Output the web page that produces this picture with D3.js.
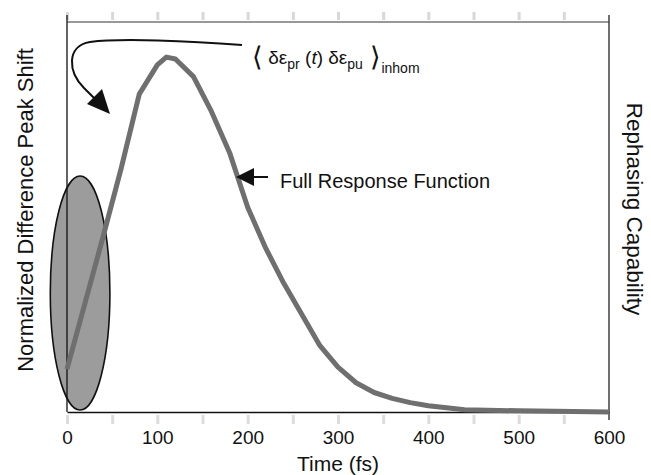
<!DOCTYPE html>
<html lang="en">
<head>
<meta charset="utf-8">
<title>Peak shift</title>
<script src="https://d3js.org/d3.v7.min.js"></script>
<style>
  body { margin: 0; background: #fff; }
  text { font-family: "Liberation Sans", Arial, sans-serif; fill: #111; }
</style>
</head>
<body>
<div id="chart"></div>
<script type="text/javascript">
	// data
	var times = [0, 20, 40, 60, 80, 100, 110, 120, 140, 160, 180, 200, 220, 240, 260, 280, 300, 320, 340, 360, 380, 400, 440, 500, 600];
	var response = [0.11, 0.28, 0.45, 0.625, 0.815, 0.89, 0.91, 0.905, 0.86, 0.77, 0.665, 0.525, 0.42, 0.33, 0.25, 0.17, 0.115, 0.075, 0.05, 0.035, 0.024, 0.016, 0.006, 0.003, 0.0];
	var xTicks = [0, 100, 200, 300, 400, 500, 600];
	var faintTicks = [0, 50, 100, 150, 200, 250, 300, 350, 400, 450, 500, 550];

	var margin = {top: 22, right: 42, bottom: 63, left: 67},
		width = 651 - margin.left - margin.right,
		height = 475 - margin.top - margin.bottom;

	var svg = d3.select("#chart")
		.append("svg")
		.attr("width", 651)
		.attr("height", 475);
	var g = svg.append("g")
		.attr("transform", "translate(" + margin.left + "," + margin.top + ")");

	var x = d3.scaleLinear().domain([0, 600]).range([0, width]);
	var y = d3.scaleLinear().domain([0, 1]).range([height, 0]);

	// faint scan-like ticks above and below the frame
	g.append("g")
		.attr("transform", "translate(0," + (-2) + ")")
		.call(d3.axisTop(x).tickValues(faintTicks).tickSize(8).tickFormat(""))
		.call(function(s){ s.select(".domain").remove(); s.selectAll("line").attr("stroke", "#d8d8d8").attr("stroke-width", 3); });
	g.append("g")
		.attr("transform", "translate(0," + (height + 3) + ")")
		.call(d3.axisBottom(x).tickValues(faintTicks).tickSize(9).tickFormat(""))
		.call(function(s){ s.select(".domain").remove(); s.selectAll("line").attr("stroke", "#dcdcdc").attr("stroke-width", 3); });

	// ellipse (initial region)
	g.append("ellipse")
		.attr("cx", x(14.5))
		.attr("cy", y(0.305))
		.attr("rx", x(33) - x(0))
		.attr("ry", y(0) - y(0.30))
		.attr("fill", "#9c9c9c")
		.attr("stroke", "#111")
		.attr("stroke-width", 1.6);

	// frame
	g.append("line").attr("x1", 0).attr("x2", 0).attr("y1", -7).attr("y2", height)
		.attr("stroke", "#111").attr("stroke-width", 1.3);
	g.append("line").attr("x1", width).attr("x2", width).attr("y1", -7).attr("y2", height + 8)
		.attr("stroke", "#222").attr("stroke-width", 1.3);
	g.append("line").attr("x1", 0).attr("x2", width).attr("y1", 0).attr("y2", 0)
		.attr("stroke", "#333").attr("stroke-width", 1);

	// bottom axis
	var xAxis = d3.axisBottom(x).tickValues(xTicks).tickSize(0).tickPadding(19);
	g.append("g")
		.attr("transform", "translate(0," + height + ")")
		.call(xAxis)
		.call(function(s){
			s.select(".domain").attr("stroke", "#111").attr("stroke-width", 1.6);
			s.selectAll("text").style("font-size", "19px").attr("fill", "#111");
		});

	// response curve
	var pts = times.map(function(t, i){ return {t: t, v: response[i]}; });
	g.append("path")
		.datum(pts)
		.attr("fill", "none")
		.attr("stroke", "#6f6f6f")
		.attr("stroke-width", 5)
		.attr("stroke-linejoin", "round")
		.attr("d", d3.line()
			.x(function(d){ return x(d.t); })
			.y(function(d){ return y(d.v); }));

	// curved arrow from the correlation label
	svg.append("path")
		.attr("d", "M242,45 C190,41 120,38 90,42 C66,46 68,72 84,88 L96,100")
		.attr("fill", "none")
		.attr("stroke", "#111")
		.attr("stroke-width", 2);
	svg.append("polygon")
		.attr("points", "110,114 87,104 102,89")
		.attr("fill", "#111");

	// correlation label
	var lab = svg.append("text")
		.attr("x", 252)
		.attr("y", 64)
		.style("font-size", "19px");
	lab.append("tspan").text("\u27E8").style("font-size", "27px").attr("dy", 2);
	lab.append("tspan").text(" \u03B4\u03B5").attr("dy", -2);
	lab.append("tspan").text("pr").style("font-size", "14px").attr("dy", 5);
	lab.append("tspan").text(" (").attr("dy", -5);
	lab.append("tspan").text("t").style("font-style", "italic");
	lab.append("tspan").text(") \u03B4\u03B5");
	lab.append("tspan").text("pu").style("font-size", "14px").attr("dy", 5);
	lab.append("tspan").text(" \u27E9").style("font-size", "27px").attr("dy", -3);
	lab.append("tspan").text("inhom").style("font-size", "14px").attr("dy", 7);

	// full response arrow + label
	svg.append("line").attr("x1", 250).attr("x2", 268).attr("y1", 177).attr("y2", 177)
		.attr("stroke", "#111").attr("stroke-width", 2);
	svg.append("polygon")
		.attr("points", "236,177 254,168 254,186")
		.attr("fill", "#111");
	svg.append("text")
		.attr("x", 280)
		.attr("y", 188)
		.style("font-size", "20px")
		.text("Full Response Function");

	// axis titles
	svg.append("text")
		.attr("x", 338)
		.attr("y", 471)
		.attr("text-anchor", "middle")
		.style("font-size", "21px")
		.text("Time (fs)");
	svg.append("text")
		.attr("transform", "translate(33,210) rotate(-90)")
		.attr("text-anchor", "middle")
		.style("font-size", "22px")
		.text("Normalized Difference Peak Shift");
	svg.append("text")
		.attr("transform", "translate(627,209) rotate(90)")
		.attr("text-anchor", "middle")
		.style("font-size", "22.5px")
		.text("Rephasing Capability");
</script>
</body>
</html>
